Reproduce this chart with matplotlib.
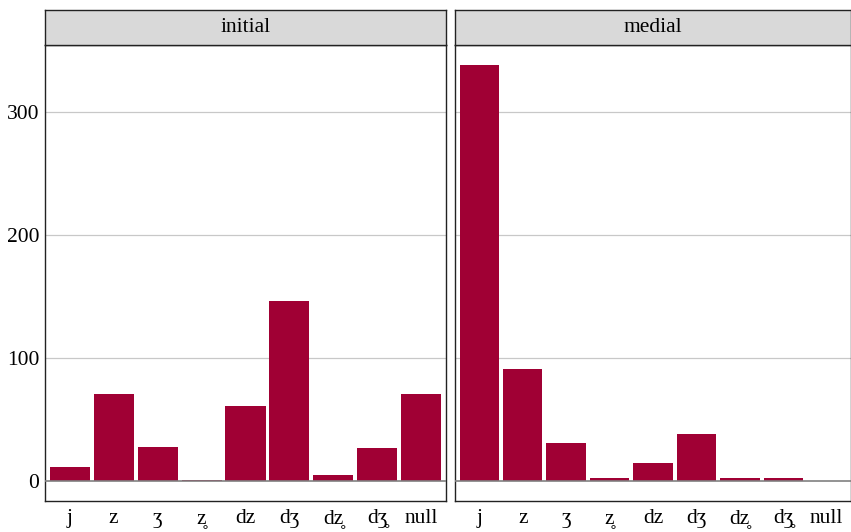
import matplotlib
matplotlib.use("Agg")
import matplotlib.pyplot as plt

plt.rcParams['font.family'] = ['Liberation Serif', 'DejaVu Serif']

categories = ["j", "z", "ʒ", "z̥", "dz", "dʒ", "dz̥", "dʒ̥", "null"]
panels = ["initial", "medial"]
initial_vals = [11, 71, 28, 1, 61, 146, 5, 27, 71]
medial_vals = [338, 91, 31, 2, 15, 38, 2, 2, 0]
yticks = [0, 100, 200, 300]

bar_color = "#A00034"
fs = 15.5
fig = plt.figure(figsize=(8.51, 5.32), dpi=100)
W, H = 851, 532
ymin, ymax = -16.3, 354.5
axes_px = [(45, 446), (455, 851)]
top_px, bot_px, strip_top = 45, 501, 10

for i, (name, vals) in enumerate(zip(panels, [initial_vals, medial_vals])):
    x0, x1 = axes_px[i]
    ax = fig.add_axes([x0 / W, 1 - bot_px / H, (x1 - x0) / W, (bot_px - top_px) / H])
    xs = list(range(len(categories)))
    for y in yticks[1:]:
        ax.axhline(y, color="#C8C8C8", lw=0.9, zorder=0)
    ax.bar(xs, vals, width=0.91, color=bar_color, zorder=2)
    ax.axhline(0, color="#808080", lw=1.2, zorder=3)
    ax.set_xlim(-0.56, len(categories) - 0.44)
    ax.set_ylim(ymin, ymax)
    ax.set_xticks(xs)
    ax.set_xticklabels(categories, fontsize=fs)
    ax.tick_params(axis='x', length=0, pad=6)
    ax.set_yticks(yticks)
    if i == 0:
        ax.set_yticklabels([str(v) for v in yticks], fontsize=fs)
        ax.tick_params(axis='y', length=0, pad=4)
    else:
        ax.set_yticklabels([])
        ax.tick_params(axis='y', length=0)
    for s in ax.spines.values():
        s.set_color("#222222")
        s.set_linewidth(1.0)
    sax = fig.add_axes([x0 / W, 1 - top_px / H, (x1 - x0) / W, (top_px - strip_top) / H])
    sax.set_facecolor("#D9D9D9")
    sax.set_xticks([])
    sax.set_yticks([])
    for s in sax.spines.values():
        s.set_color("#222222")
        s.set_linewidth(1.0)
    sax.text(0.5, 0.5, name, ha="center", va="center", fontsize=fs, transform=sax.transAxes)

fig.savefig("out.png", dpi=100)
